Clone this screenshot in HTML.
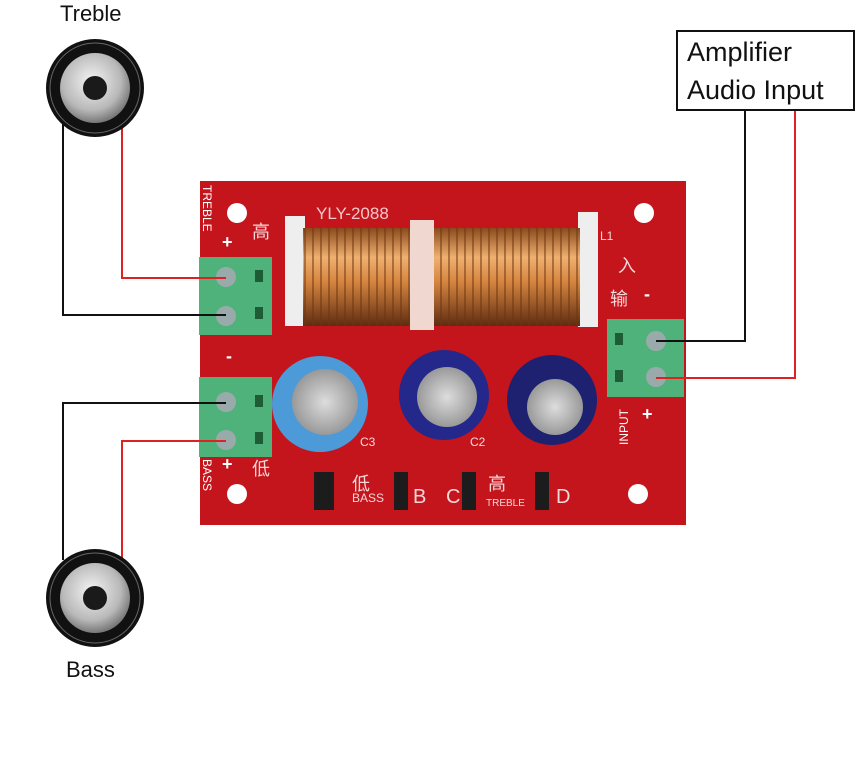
<!DOCTYPE html>
<html><head><style>body{margin:0;background:#fff}svg{display:block}</style></head><body>
<svg width="865" height="784" viewBox="0 0 865 784" xmlns="http://www.w3.org/2000/svg" font-family="Liberation Sans, Noto Sans CJK SC, sans-serif">
<defs>
<radialGradient id="cone" cx="0.45" cy="0.4" r="0.6"><stop offset="0" stop-color="#f4f4f4"/><stop offset="0.7" stop-color="#b8b8b8"/><stop offset="1" stop-color="#777"/></radialGradient>
<linearGradient id="coil" x1="0" y1="228" x2="0" y2="326" gradientUnits="userSpaceOnUse"><stop offset="0" stop-color="#8a4a1c"/><stop offset="0.3" stop-color="#f0b070"/><stop offset="0.55" stop-color="#d58540"/><stop offset="1" stop-color="#5e2c10"/></linearGradient>
<pattern id="turns" x="0" y="0" width="8" height="784" patternUnits="userSpaceOnUse"><rect width="8" height="784" fill="url(#coil)"/><rect width="2" height="784" fill="#6b3512" opacity="0.5"/></pattern>
<radialGradient id="can" cx="0.5" cy="0.5" r="0.5"><stop offset="0" stop-color="#ddd"/><stop offset="1" stop-color="#999"/></radialGradient>
</defs>
<text x="60" y="21" font-size="22" fill="#111">Treble</text>
<text x="66" y="677" font-size="22" fill="#111">Bass</text>
<g fill="none" stroke-width="2">
<polyline points="63,120 63,315 225,315" stroke="#111"/>
<polyline points="122,120 122,278 225,278" stroke="#d22"/>
<polyline points="225,403 63,403 63,560" stroke="#111"/>
<polyline points="225,441 122,441 122,560" stroke="#d22"/>
<polyline points="745,110 745,341 650,341" stroke="#111"/>
<polyline points="795,110 795,378 650,378" stroke="#d22"/>
</g>
<g>
<circle cx="95" cy="88" r="49" fill="#111"/>
<circle cx="95" cy="88" r="45" fill="none" stroke="#666" stroke-width="1"/>
<circle cx="95" cy="88" r="35" fill="url(#cone)"/>
<circle cx="95" cy="88" r="12" fill="#1a1a1a"/>
</g>
<g transform="translate(0,510)">
<circle cx="95" cy="88" r="49" fill="#111"/>
<circle cx="95" cy="88" r="45" fill="none" stroke="#666" stroke-width="1"/>
<circle cx="95" cy="88" r="35" fill="url(#cone)"/>
<circle cx="95" cy="88" r="12" fill="#1a1a1a"/>
</g>
<rect x="677" y="31" width="177" height="79" fill="#fff" stroke="#111" stroke-width="2"/>
<text x="687" y="61" font-size="27" fill="#111">Amplifier</text>
<text x="687" y="99" font-size="27" fill="#111">Audio Input</text>
<rect x="200" y="181" width="486" height="344" fill="#c4141c"/>
<g fill="#fff">
<circle cx="237" cy="213" r="10"/><circle cx="644" cy="213" r="10"/>
<circle cx="237" cy="494" r="10"/><circle cx="638" cy="494" r="10"/>
</g>
<text x="316" y="219" font-size="17" fill="#f3c8c8">YLY-2088</text>
<g fill="#fff" font-size="18" font-weight="bold">
<text x="222" y="248">+</text><text x="226" y="362">-</text>
<text x="222" y="470">+</text><text x="644" y="300">-</text><text x="642" y="420">+</text>
</g>
<text x="200" y="188" font-size="12" fill="#fff" transform="rotate(90 203 188)">TREBLE</text>
<text x="200" y="462" font-size="12" fill="#fff" transform="rotate(90 203 462)">BASS</text>
<text x="628" y="445" font-size="12" fill="#fff" transform="rotate(-90 628 445)">INPUT</text>
<g fill="#f4d8d8" font-size="18">
<text x="252" y="238">高</text><text x="252" y="475">低</text>
<text x="610" y="305">输</text><text x="618" y="272">入</text>
<text x="352" y="490">低</text><text x="488" y="490">高</text>
</g>
<g fill="#f4d8d8" font-size="12"><text x="600" y="240">L1</text><text x="360" y="446">C3</text><text x="470" y="446">C2</text><text x="352" y="502">BASS</text><text x="486" y="506" font-size="10">TREBLE</text></g>
<g fill="#f4d8d8" font-size="20"><text x="315" y="503">A</text><text x="413" y="503">B</text><text x="446" y="503">C</text><text x="556" y="503">D</text></g>
<rect x="285" y="216" width="20" height="110" fill="#eee"/>
<rect x="578" y="212" width="20" height="115" fill="#eee"/>
<rect x="303" y="228" width="277" height="98" fill="url(#turns)"/>
<rect x="410" y="220" width="24" height="110" fill="#f0d8d0"/>
<circle cx="320" cy="404" r="48" fill="#4d9ad8"/><circle cx="325" cy="402" r="33" fill="url(#can)"/>
<circle cx="444" cy="395" r="45" fill="#23288a"/><circle cx="447" cy="397" r="30" fill="url(#can)"/>
<circle cx="552" cy="400" r="45" fill="#1d2170"/><circle cx="555" cy="407" r="28" fill="url(#can)"/>
<g fill="#1c1c1c"><rect x="314" y="472" width="20" height="38"/><rect x="394" y="472" width="14" height="38"/><rect x="462" y="472" width="14" height="38"/><rect x="535" y="472" width="14" height="38"/></g>
<g>
<rect x="199" y="257" width="73" height="78" fill="#4fb27a"/><circle cx="226" cy="277" r="10" fill="#9aa"/><circle cx="226" cy="316" r="10" fill="#9aa"/>
<rect x="255" y="270" width="8" height="12" fill="#1e5c36"/><rect x="255" y="307" width="8" height="12" fill="#1e5c36"/>
<rect x="199" y="377" width="73" height="80" fill="#4fb27a"/><circle cx="226" cy="402" r="10" fill="#9aa"/><circle cx="226" cy="440" r="10" fill="#9aa"/>
<rect x="255" y="395" width="8" height="12" fill="#1e5c36"/><rect x="255" y="432" width="8" height="12" fill="#1e5c36"/>
<rect x="607" y="319" width="77" height="78" fill="#4fb27a"/><circle cx="656" cy="341" r="10" fill="#9aa"/><circle cx="656" cy="377" r="10" fill="#9aa"/>
<rect x="615" y="333" width="8" height="12" fill="#1e5c36"/><rect x="615" y="370" width="8" height="12" fill="#1e5c36"/>
</g>
<g fill="none" stroke-width="2">
<line x1="122" y1="278" x2="226" y2="278" stroke="#d22"/><line x1="63" y1="315" x2="226" y2="315" stroke="#111"/>
<line x1="63" y1="403" x2="226" y2="403" stroke="#111"/><line x1="122" y1="441" x2="226" y2="441" stroke="#d22"/>
<line x1="745" y1="341" x2="656" y2="341" stroke="#111"/><line x1="795" y1="378" x2="656" y2="378" stroke="#d22"/>
</g>
</svg>
</body></html>
